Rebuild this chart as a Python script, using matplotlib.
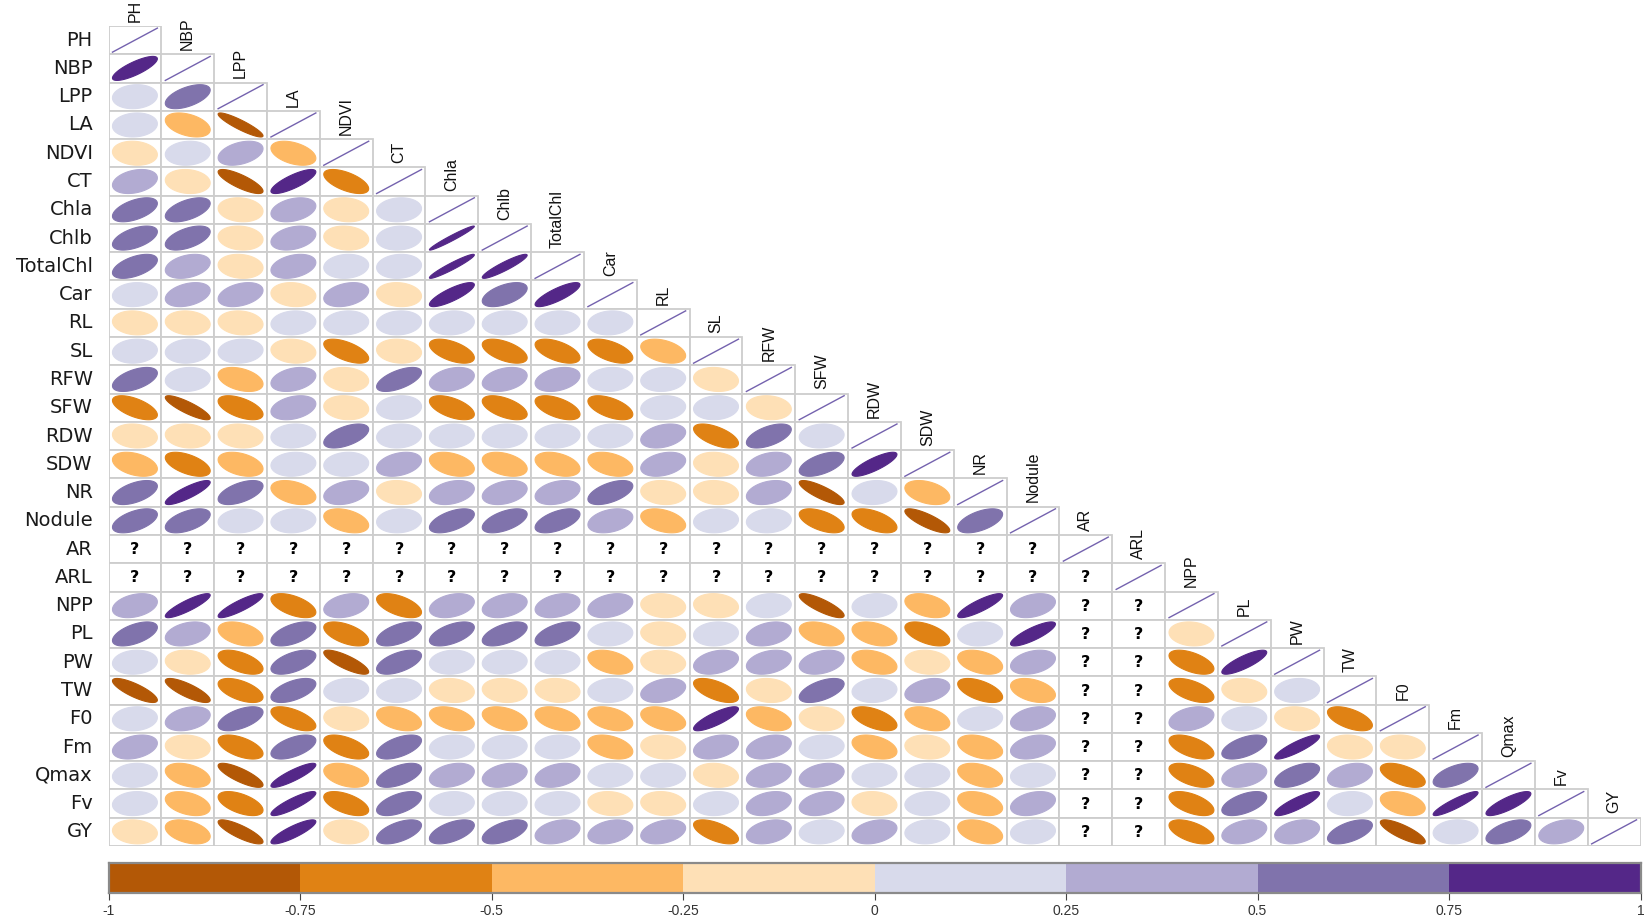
import numpy as np
import matplotlib
matplotlib.use('Agg')
import matplotlib.pyplot as plt
from matplotlib.patches import Polygon, Rectangle

# 1. Data

na = np.nan

variables = ['PH', 'NBP', 'LPP', 'LA', 'NDVI', 'CT', 'Chla', 'Chlb', 'TotalChl', 'Car',
             'RL', 'SL', 'RFW', 'SFW', 'RDW', 'SDW', 'NR', 'Nodule', 'AR', 'ARL',
             'NPP', 'PL', 'PW', 'TW', 'F0', 'Fm', 'Qmax', 'Fv', 'GY']

# - lower triangle: correlation of each variable with the variables before it
r_PH = []
r_NBP = [0.8]
r_LPP = [0.1, 0.55]
r_LA = [0.1, -0.4, -0.9]
r_NDVI = [-0.12, 0.1, 0.38, -0.42]
r_CT = [0.3, -0.12, -0.8, 0.8, -0.6]
r_Chla = [0.53, 0.53, -0.12, 0.32, -0.12, 0.1]
r_Chlb = [0.53, 0.53, -0.12, 0.32, -0.12, 0.1, 0.97]
r_TotalChl = [0.53, 0.32, -0.12, 0.32, 0.1, 0.1, 0.95, 0.92]
r_Car = [0.1, 0.35, 0.35, -0.12, 0.32, -0.12, 0.82, 0.53, 0.82]
r_RL = [-0.12, -0.12, -0.12, 0.1, 0.1, 0.1, 0.1, 0.1, 0.1, 0.1]
r_SL = [0.1, 0.1, 0.1, -0.12, -0.6, -0.12, -0.55, -0.55, -0.55, -0.55, -0.38]
r_RFW = [0.53, 0.1, -0.38, 0.32, -0.12, 0.6, 0.32, 0.32, 0.32, 0.1, 0.1, -0.12]
r_SFW = [-0.6, -0.85, -0.55, 0.32, -0.12, 0.1, -0.55, -0.55, -0.55, -0.55, 0.1, 0.1, -0.12]
r_RDW = [-0.12, -0.12, -0.12, 0.1, 0.55, 0.1, 0.1, 0.1, 0.1, 0.1, 0.32, -0.6, 0.55, 0.1]
r_SDW = [-0.38, -0.55, -0.38, 0.1, 0.1, 0.32, -0.38, -0.38, -0.38, -0.38, 0.32, -0.12, 0.32, 0.55, 0.82]
r_NR = [0.53, 0.85, 0.55, -0.38, 0.32, -0.12, 0.32, 0.32, 0.32, 0.55, -0.12, -0.12, 0.32, -0.82, 0.1,
        -0.38]
r_Nodule = [0.53, 0.53, 0.1, 0.1, -0.38, 0.1, 0.55, 0.55, 0.55, 0.32, -0.38, 0.1, 0.1, -0.55, -0.55,
            -0.8, 0.55]
r_AR = [na] * 18
r_ARL = [na] * 19
r_NPP = [0.32, 0.87, 0.87, -0.55, 0.32, -0.55, 0.32, 0.32, 0.32, 0.32, -0.12, -0.12, 0.1, -0.82, 0.1,
         -0.38, 0.85, 0.32, na, na]
r_PL = [0.55, 0.32, -0.38, 0.55, -0.55, 0.55, 0.55, 0.55, 0.55, 0.1, -0.12, 0.1, 0.32, -0.38, -0.38,
        -0.55, 0.1, 0.82, na, na, -0.12]
r_PW = [0.1, -0.12, -0.55, 0.55, -0.8, 0.55, 0.1, 0.1, 0.1, -0.38, -0.12, 0.32, 0.32, 0.32, -0.38,
        -0.12, -0.38, 0.32, na, na, -0.55, 0.82]
r_TW = [-0.8, -0.8, -0.55, 0.55, 0.1, 0.1, -0.12, -0.12, -0.12, 0.1, 0.32, -0.6, -0.12, 0.55, 0.1,
        0.32, -0.55, -0.38, na, na, -0.55, -0.12, 0.1]
r_F0 = [0.1, 0.32, 0.55, -0.6, -0.12, -0.38, -0.38, -0.38, -0.38, -0.38, -0.38, 0.82, -0.38, -0.12,
        -0.55, -0.38, 0.1, 0.32, na, na, 0.32, 0.1, -0.12, -0.55]
r_Fm = [0.32, -0.12, -0.55, 0.55, -0.55, 0.55, 0.1, 0.1, 0.1, -0.38, -0.12, 0.32, 0.32, 0.1, -0.38,
        -0.12, -0.38, 0.32, na, na, -0.55, 0.55, 0.87, -0.12, -0.12]
r_Qmax = [0.1, -0.38, -0.8, 0.87, -0.38, 0.55, 0.32, 0.32, 0.32, 0.1, 0.1, -0.12, 0.32, 0.32, 0.1, 0.1,
          -0.38, 0.1, na, na, -0.55, 0.32, 0.55, 0.32, -0.55, 0.55]
r_Fv = [0.1, -0.38, -0.55, 0.87, -0.55, 0.55, 0.1, 0.1, 0.1, -0.12, -0.12, 0.1, 0.32, 0.32, -0.12, 0.1,
        -0.38, 0.32, na, na, -0.55, 0.55, 0.85, 0.1, -0.38, 0.9, 0.82]
r_GY = [-0.12, -0.38, -0.82, 0.85, -0.12, 0.55, 0.55, 0.55, 0.32, 0.32, 0.32, -0.6, 0.32, 0.1, 0.32, 0.1,
        -0.38, 0.1, na, na, -0.55, 0.32, 0.32, 0.55, -0.8, 0.1, 0.55, 0.32]

lower_rows = [r_PH, r_NBP, r_LPP, r_LA, r_NDVI, r_CT, r_Chla, r_Chlb, r_TotalChl, r_Car,
              r_RL, r_SL, r_RFW, r_SFW, r_RDW, r_SDW, r_NR, r_Nodule, r_AR, r_ARL,
              r_NPP, r_PL, r_PW, r_TW, r_F0, r_Fm, r_Qmax, r_Fv, r_GY]

# - colour key
bin_edges = [-1, -0.75, -0.5, -0.25, 0, 0.25, 0.5, 0.75, 1]
bin_colors = ['#B35806', '#E08214', '#FDB863', '#FEE0B6', '#D8DAEB', '#B2ABD2', '#8073AC', '#542788']
tick_labels = ['-1', '-0.75', '-0.5', '-0.25', '0', '0.25', '0.5', '0.75', '1']


def bin_color(r):
    i = int(np.searchsorted(bin_edges, r, side='right')) - 1
    return bin_colors[min(max(i, 0), len(bin_colors) - 1)]


def ellipse_xy(r, cx, cy, scale=0.85, n=100):
    # same construction as corrplot's 'ellipse' method
    d = np.arccos(r)
    k = np.linspace(0, 2 * np.pi, n)
    x = np.cos(k + d / 2) / 2 * scale
    y = np.cos(k - d / 2) / 2 * scale
    return np.column_stack([cx + x, cy - y])


# 2. Plot

W, H = 1651, 923
fig = plt.figure(figsize=(W / 100, H / 100), dpi=100)
n = len(variables)
gl, gr, gt, gb = 108.5, 1640.5, 26, 846
ax = fig.add_axes([gl / W, 1 - gb / H, (gr - gl) / W, (gb - gt) / H])
ax.set_xlim(0, n)
ax.set_ylim(n, 0)
ax.axis('off')

for i, row in enumerate(lower_rows):
    for j in range(i + 1):
        ax.add_patch(Rectangle((j, i), 1, 1, facecolor='white', edgecolor='#CDCDCD', lw=1.3, zorder=1))
    for j, r in enumerate(row):
        if np.isnan(r):
            ax.text(j + 0.5, i + 0.52, '?', ha='center', va='center', fontsize=11.5,
                    fontweight='bold', color='black', zorder=3)
        else:
            c = bin_color(r)
            ax.add_patch(Polygon(ellipse_xy(r, j + 0.5, i + 0.5), closed=True,
                                 facecolor=c, edgecolor=c, lw=0.8, zorder=2))
    # - diagonal (r = 1)
    ax.plot([i + 0.075, i + 0.925], [i + 0.925, i + 0.075], color='#7462AE', lw=1, zorder=2)

# - labels
for i, name in enumerate(variables):
    ax.text(-0.3, i + 0.5, name, ha='right', va='center', fontsize=14, color='#1a1a1a',
            family='DejaVu Sans')
    ax.text(i + 0.5, i - 0.15, name, ha='center', va='bottom', rotation=90, fontsize=11.5,
            color='#111111', family='Liberation Sans')

# - colour bar
cax = fig.add_axes([gl / W, 1 - 893 / H, (gr - gl) / W, 30 / H])
for b in range(len(bin_colors)):
    cax.barh(0, bin_edges[b + 1] - bin_edges[b], left=bin_edges[b], height=1,
             color=bin_colors[b], edgecolor='none')
cax.set_xlim(-1, 1)
cax.set_ylim(-0.5, 0.5)
cax.set_yticks([])
cax.set_xticks(bin_edges)
cax.set_xticklabels(tick_labels, family='Liberation Sans', fontsize=10, color='#333333')
cax.tick_params(axis='x', direction='out', length=5, width=0.8, color='#444444', pad=3)
for s in cax.spines.values():
    s.set_color('#8a8a8a')
    s.set_linewidth(1.6)

fig.savefig('out.png', dpi=100)
